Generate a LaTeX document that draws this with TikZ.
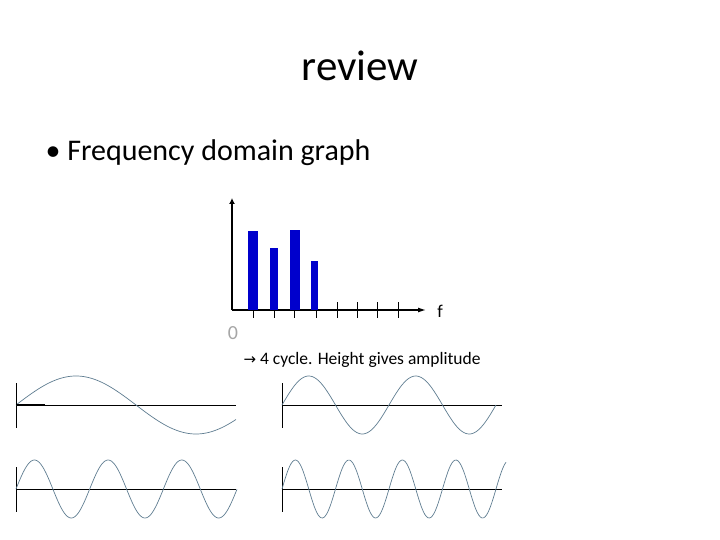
\documentclass[tikz,border=0pt]{standalone}
\usepackage{fontspec}
\setmainfont{Carlito}
\newfontfamily\symfont{DejaVu Sans}
\usetikzlibrary{arrows.meta}
\definecolor{waveslate}{RGB}{95,125,145}

\tikzset{
  wave/.style={draw=waveslate, line width=0.7pt},
  baseaxis/.style={draw=black, line width=0.8pt},
  freqbar/.style={fill=blue!80!black, draw=none},
}

\begin{document}
\begin{tikzpicture}[x=1pt,y=-1pt]
        \useasboundingbox (0,0) rectangle (720,540);

        % Title and bullet
        \node (title) at (360,66) {\fontsize{43}{50}\selectfont review};
        \node[anchor=base west] (bullet) at (42,161) {\fontsize{30}{36}\selectfont \textbullet\ Frequency domain graph};

        % Frequency axes
        \coordinate (org) at (232,310);
        \coordinate (ytop) at (232,198);
        \coordinate (xend) at (426,310);
        \draw[line width=1.2pt, -{Latex[length=6pt,width=6pt]}] (org) -- (ytop);
        \draw[line width=1.2pt, -{Latex[length=8pt,width=5pt]}] (org) -- (xend);
        \foreach \tx in {253,274,294,316,337,357,377,398}
            \draw[line width=1pt] (\tx,302) -- (\tx,318);

        % Bars
        \fill[freqbar] (248,231) rectangle (258,310);
        \fill[freqbar] (270,248) rectangle (278,310);
        \fill[freqbar] (290,230) rectangle (300,310);
        \fill[freqbar] (311,261) rectangle (318,310);

        \node[text=gray!70, font=\fontsize{20}{24}\selectfont] (zero) at (233,333) {0};
        \node[font=\fontsize{18}{22}\selectfont] (flabel) at (440,311) {f};

        % Caption
        \node[anchor=base west, font=\fontsize{17.5}{21}\selectfont] (caption) at (240,364)
            {{\symfont\fontsize{15}{18}\selectfont →} 4 cycle. Height gives amplitude};

        % Sine panels: x0, axis y, length, period
        \foreach \xo/\yo/\len/\per in {16/405/220/240, 282/405/214/107, 16/489/221/73.7, 282/489/224/53.5}{
            \draw[baseaxis] (\xo,\yo-22) -- (\xo,\yo+23);
            \draw[baseaxis] (\xo,\yo) -- (\xo+220,\yo);
            \draw[wave] plot[domain=0:\len, samples=150, smooth]
                ({\xo+\x}, {\yo-29*sin(\x/\per*360)});
        }
        \draw[baseaxis] (16,404) -- (45,404);

    \end{tikzpicture}
\end{document}
